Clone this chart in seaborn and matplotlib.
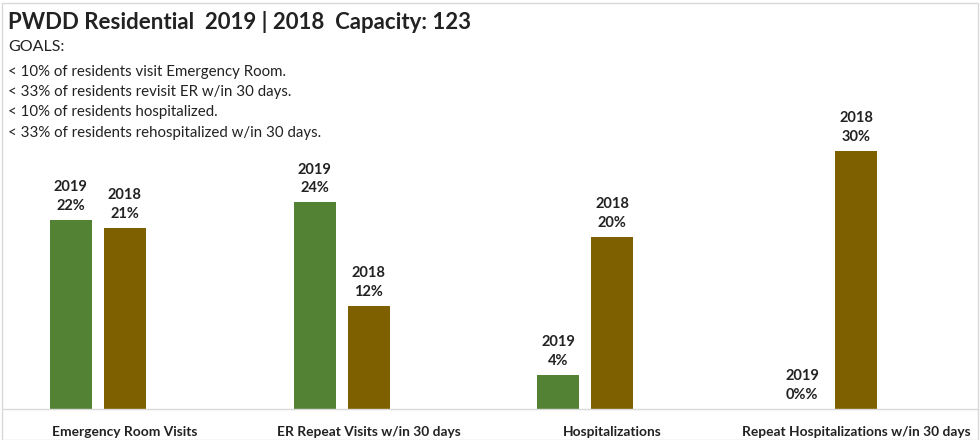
import seaborn as sns
import pandas as pd
import matplotlib.pyplot as plt
from matplotlib.patches import Rectangle

# data
categories = ["Emergency Room Visits", "ER Repeat Visits w/in 30 days",
              "Hospitalizations", "Repeat Hospitalizations w/in 30 days"]
values_2019 = [22, 24, 4, 0]
values_2018 = [21, 12, 20, 30]
values_blank = [0, 0, 0, 0]  # empty third series that Excel leaves a slot for
labels_2019 = ["22%", "24%", "4%", "0%%"]
labels_2018 = ["21%", "12%", "20%", "30%"]
goals = ["GOALS:",
         "< 10% of residents visit Emergency Room.",
         "< 33% of residents revisit ER w/in 30 days.",
         "< 10% of residents hospitalized.",
         "< 33% of residents rehospitalized w/in 30 days."]
title = "PWDD Residential  2019 | 2018  Capacity: 123"

df = pd.DataFrame({
    "Category": categories * 3,
    "Year": ["2019"] * 4 + ["2018"] * 4 + [" "] * 4,
    "Value": values_2019 + values_2018 + values_blank,
})

sns.set_style("white")
plt.rcParams["font.family"] = ["Lato", "DejaVu Sans"]

fig = plt.figure(figsize=(9.8, 4.4), dpi=100)
ax = fig.add_axes([3 / 980, 31 / 440, 975 / 980, 309 / 440])

sns.barplot(data=df, x="Category", y="Value", hue="Year",
            hue_order=["2019", "2018", " "],
            palette=["#548235", "#7F6000", "#FFFFFF"],
            width=0.664, gap=0.22, saturation=1, linewidth=0,
            legend=False, ax=ax)

ax.set_ylim(0, 35.9)
ax.set_xlim(-0.5, 3.5)

for cont, year, labs in zip(ax.containers[:2], ["2019", "2018"],
                            [labels_2019, labels_2018]):
    ax.bar_label(cont, labels=[f"{year}\n{l}" for l in labs], padding=5,
                 fontsize=10.5, fontweight="bold", color="#222222",
                 linespacing=1.45)

ax.set_xlabel("")
ax.set_ylabel("")
ax.set_yticks([])
ax.tick_params(axis="x", length=0, pad=12)
for t in ax.get_xticklabels():
    t.set_fontweight("bold")
    t.set_fontsize(9.9)
    t.set_color("#222222")
for s in ["top", "left", "right"]:
    ax.spines[s].set_visible(False)
ax.spines["bottom"].set_color("#D9D9D9")
ax.spines["bottom"].set_linewidth(1)

fig.text(8 / 980, 1 - 22 / 440, title, fontsize=16, fontweight="bold",
         color="#222222", va="center")
ys = [47, 72, 92, 112, 133]
for y, g in zip(ys, goals):
    fig.text(8 / 980, 1 - y / 440, g, fontsize=11.5 if g == "GOALS:" else 10.8,
             color="#222222", va="center")

fig.patches.append(Rectangle((2 / 980, 0), 976 / 980, 437 / 440,
                             transform=fig.transFigure, fill=False,
                             edgecolor="#D9D9D9", linewidth=1))

fig.savefig("out.png", dpi=100)
